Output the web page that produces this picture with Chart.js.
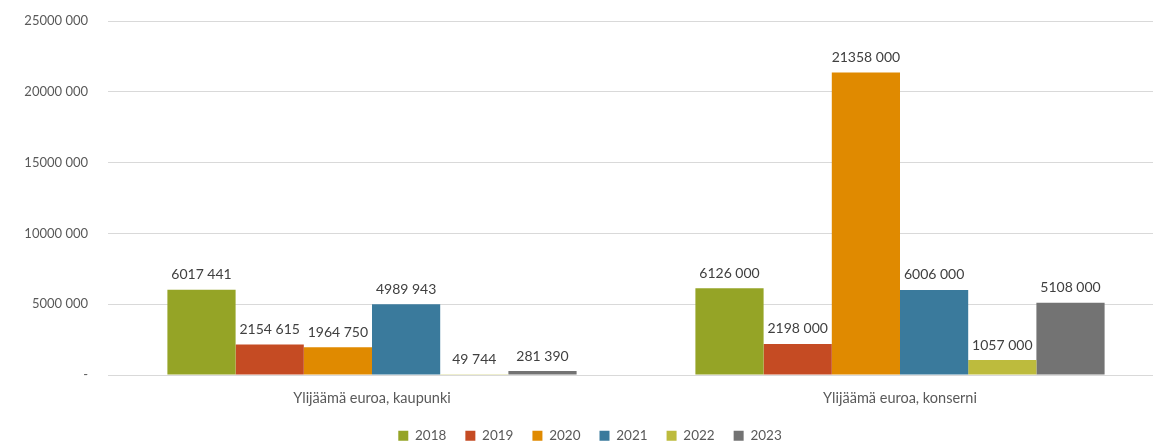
<!DOCTYPE html>
<html>
<head>
<meta charset="utf-8">
<script src="https://cdn.jsdelivr.net/npm/chart.js@4"></script>
<style>
  html, body { margin: 0; padding: 0; background: #fff; overflow: hidden; }
  #wrap { width: 1164px; height: 442px; }
</style>
</head>
<body>
<div id="wrap"><canvas id="myChart"></canvas></div>
<script>
// data
var categories = ['Ylijäämä euroa, kaupunki', 'Ylijäämä euroa, konserni']
var years = ['2018', '2019', '2020', '2021', '2022', '2023']
var v2018 = [6017441, 6126000]
var v2019 = [2154615, 2198000]
var v2020 = [1964750, 21358000]
var v2021 = [4989943, 6006000]
var v2022 = [49744, 1057000]
var v2023 = [281390, 5108000]
var yTicks = [0, 5000000, 10000000, 15000000, 20000000, 25000000]

var colors = ['#95a426', '#c54b23', '#e08a00', '#3a7a9c', '#bdbb3d', '#737373']
var series = [v2018, v2019, v2020, v2021, v2022, v2023]

var FONT = 'Lato, "Open Sans", sans-serif'

// "6017 441" style, zero as "-"
function fmt(v) {
  if (v == 0) return '-'
  var s = String(v)
  if (s.length <= 3) return s
  return s.slice(0, -3) + ' ' + s.slice(-3)
}

var labelPlugin = {
  id: 'barLabels',
  afterDatasetsDraw: function (chart) {
    var ctx = chart.ctx
    ctx.save()
    ctx.font = '14px ' + FONT
    ctx.fillStyle = '#404040'
    ctx.textAlign = 'center'
    ctx.textBaseline = 'bottom'
    chart.data.datasets.forEach(function (ds, i) {
      chart.getDatasetMeta(i).data.forEach(function (bar, j) {
        ctx.fillText(fmt(ds.data[j]), bar.x, bar.y - 8)
      })
    })
    ctx.restore()
  }
}

var ctx = document.getElementById('myChart').getContext('2d')
var chart = new Chart(ctx, {
  type: 'bar',
  data: {
    labels: categories,
    datasets: years.map(function (y, i) {
      return {
        label: y,
        data: series[i],
        backgroundColor: colors[i],
        borderWidth: 0
      }
    })
  },
  options: {
    responsive: true,
    maintainAspectRatio: false,
    animation: false,
    layout: { padding: { top: 21, right: 0, bottom: 0, left: 16 } },
    datasets: { bar: { categoryPercentage: 0.775, barPercentage: 1 } },
    plugins: {
      legend: {
        position: 'bottom',
        maxHeight: 32,
        labels: {
          boxWidth: 10,
          boxHeight: 10,
          padding: 19,
          color: '#595959',
          font: { family: FONT, size: 13.5 }
        }
      },
      tooltip: { enabled: false }
    },
    scales: {
      x: {
        grid: { display: false, drawTicks: false },
        border: { display: false },
        afterFit: function (scale) { scale.height = 35 },
        ticks: { color: '#595959', padding: 15, font: { family: FONT, size: 14.5 } }
      },
      y: {
        min: 0,
        max: 25000000,
        afterBuildTicks: function (scale) {
          scale.ticks = yTicks.map(function (v) { return { value: v } })
        },
        afterFit: function (scale) {
          scale.width = 92
          scale.paddingTop = 0
          scale.paddingBottom = 0
        },
        grid: { color: '#d9d9d9', drawTicks: false },
        border: { display: false },
        ticks: {
          color: '#595959',
          padding: 20,
          font: { family: FONT, size: 13 },
          callback: function (v) { return fmt(v) }
        }
      }
    }
  },
  plugins: [labelPlugin]
})
</script>
</body>
</html>
